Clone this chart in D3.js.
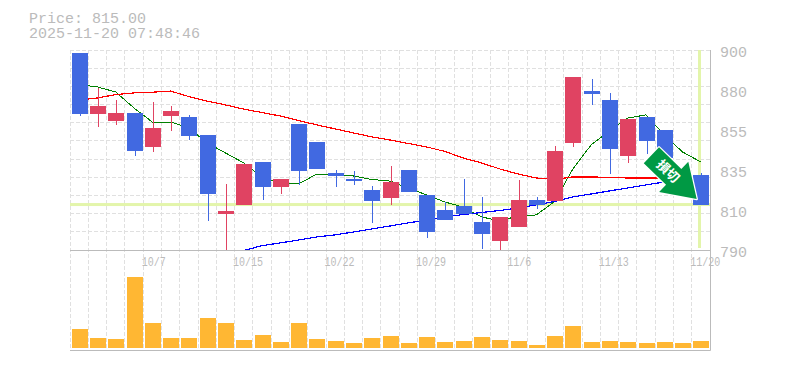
<!DOCTYPE html>
<html>
<head>
<meta charset="utf-8">
<script src="https://cdn.jsdelivr.net/npm/d3@7"></script>
<style>
  html, body { margin: 0; background: #fff; }
  svg { display: block; }
  text { font-family: "Liberation Mono", monospace; fill: #bbb; }
</style>
</head>
<body>
<div id="chart"></div>
<script>
const dates = ['10/1','10/2','10/3','10/6','10/7','10/8','10/9','10/10','10/14','10/15',
  '10/16','10/17','10/20','10/21','10/22','10/23','10/24','10/27','10/28','10/29',
  '10/30','10/31','11/4','11/5','11/6','11/7','11/10','11/11','11/12','11/13',
  '11/14','11/17','11/18','11/19','11/20'];

// blue candles fall, red candles rise
const opens = [898.4,864.8,861,865.4,846.7,863.7,863.2,853.3,809.8,814.8,
  838.4,824.7,859.3,849.4,832.4,829.1,823,818.6,834,820.3,
  812,814.2,805.4,795,802.7,817.5,817,848.9,877.5,872.5,
  841.7,863.2,856,832.9,831.3];
const closes = [864.8,869.2,865.4,844.5,857.1,866.5,852.7,820.8,811.5,837.3,
  824.7,829.1,833.5,834.5,830.7,828,817,827.4,821.9,799.9,
  806.5,809.8,798.8,808.2,817.5,814.8,844.4,885.2,875.8,845.6,
  862,849.9,840.6,824.1,815];
const highs = [898.4,879.3,872.5,865.4,871.4,869.2,864.3,853.3,826.3,837.3,
  838.4,829.1,859.3,849.4,834,833.5,825.2,836.2,834,820.3,
  816.4,829.1,819.2,808.2,828.5,819.2,847.2,885.2,884,876.4,
  862,863.2,856,834,832.4];
const lows = [863.7,857.6,858.8,841.9,844.1,855.5,850.5,806.1,788.9,814.8,
  817.5,820.8,825.8,834.5,824.7,825.8,804.9,814.8,821.9,796.6,
  806.5,809.8,790.6,788.9,802.7,812.5,817,846.7,869.8,831.8,
  837.9,842.8,838.4,822,815];
const volumes = [1900,1000,900,7100,2500,1000,1000,3000,2500,800,
  1300,600,2500,900,700,500,1000,1200,500,1100,
  600,700,1100,800,700,300,1200,2200,600,700,
  600,500,600,500,700];

// moving averages, null where the line has not started
const maShort = [881,879.7,876.9,868.1,860.4,860.4,857.1,848.9,843.4,837.9,
  830.2,826.8,826.3,831.8,831.8,830.7,828.8,827.9,824.1,820.3,
  816.4,813.6,808.2,806,808.7,809.3,816.6,834.6,847.8,855.5,
  862.6,864.3,853.3,843.9,838.4];
const maMid = [872.5,873.6,875.5,876.4,876.8,877.4,874.4,871.9,869.8,867.5,
  865.6,863.7,861.2,858.8,856.6,854.4,852.2,850.5,848.6,846.7,
  844.2,840.6,837.9,834.6,831.8,829.6,828.8,830.2,830.2,829.9,
  829.6,829.6,829.6,829.6,829.6];
const maLong = [null,null,null,null,null,null,null,null,null,789.7,
  792.4,793.9,795.5,797.2,798.3,799.9,801.6,803.2,804.9,806.5,
  808.2,809.5,810.6,811.7,813.1,814.8,816.7,819.2,820.8,822.5,
  824.1,825.8,827.4,829.1,830.7];

const yTicks = [900,880,855,835,810,790];
const dateTicks = ['10/7','10/15','10/22','10/29','11/6','11/13','11/20'];
const lastPrice = 815;
const priceLine1 = 'Price: 815.00';
const priceLine2 = '2025-11-20 07:48:46';

const width = 785;
const height = 370;
const plot = { left: 70, right: 710, top: 50, bottom: 250, volBottom: 350, volBase: 348 };

const svg = d3.select('#chart').append('svg')
  .attr('width', width)
  .attr('height', height);

const x = d3.scaleBand().domain(dates).range([plot.left, plot.right]);
const y = d3.scaleLinear().domain([790, 900]).range([plot.bottom, plot.top]);
const yVol = d3.scaleLinear().domain([0, d3.max(volumes)]).range([plot.volBase, 277]);

const barX = (d) => Math.floor(x(d) + 0.2) + 2;
const gridX = (d) => Math.floor(x(d)) + 0.5;

// gridlines
const grid = svg.append('g')
  .attr('stroke', '#e0e0e0')
  .attr('stroke-dasharray', '4 2')
  .attr('fill', 'none');
grid.selectAll('line.v').data(dates).join('line')
  .attr('class', 'v')
  .attr('x1', gridX).attr('x2', gridX)
  .attr('y1', plot.top).attr('y2', plot.volBottom);
grid.selectAll('line.h').data(d3.range(800, 901, 10)).join('line')
  .attr('class', 'h')
  .attr('x1', plot.left).attr('x2', plot.right)
  .attr('y1', (d) => Math.floor(y(d)) + 0.5)
  .attr('y2', (d) => Math.floor(y(d)) + 0.5);

// current price and current day markers
svg.append('rect')
  .attr('x', plot.left).attr('width', plot.right - plot.left)
  .attr('y', y(lastPrice) - 1.5).attr('height', 3)
  .attr('fill', '#e3f5ab');
svg.append('rect')
  .attr('x', Math.floor(x(dates[34])) + 7).attr('width', 3)
  .attr('y', plot.top).attr('height', plot.bottom - plot.top - 2)
  .attr('fill', '#e3f5ab');

// volume
svg.append('g').selectAll('rect').data(dates).join('rect')
  .attr('x', barX)
  .attr('width', 16)
  .attr('y', (d, i) => yVol(volumes[i]))
  .attr('height', (d, i) => plot.volBase - yVol(volumes[i]))
  .attr('fill', '#ffb733');

// moving averages sit under the candles
svg.append('defs').append('clipPath').attr('id', 'plotClip').append('rect')
  .attr('x', plot.left).attr('y', plot.top)
  .attr('width', plot.right - plot.left).attr('height', plot.bottom - plot.top);

const maLine = d3.line()
  .defined((d) => d !== null)
  .x((d, i) => x(dates[i]) + x.bandwidth() / 2)
  .y((d) => y(d));

const lines = svg.append('g')
  .attr('clip-path', 'url(#plotClip)')
  .attr('fill', 'none')
  .attr('shape-rendering', 'crispEdges');
[[maShort, '#008000', 1], [maMid, '#ff0000', 1.2], [maLong, '#0000ff', 1.2]].forEach(([vals, color, w]) => {
  lines.append('path').attr('d', maLine(vals)).attr('stroke', color).attr('stroke-width', w);
});

// candles
const candleColor = (i) => (closes[i] >= opens[i] ? '#e04362' : '#4169e1');
const candles = svg.append('g').attr('clip-path', 'url(#plotClip)').attr('shape-rendering', 'crispEdges');
candles.selectAll('rect.wick').data(dates).join('rect')
  .attr('class', 'wick')
  .attr('x', (d) => barX(d) + 8)
  .attr('width', 1)
  .attr('y', (d, i) => y(highs[i]))
  .attr('height', (d, i) => y(lows[i]) - y(highs[i]))
  .attr('fill', (d, i) => candleColor(i));
candles.selectAll('rect.body').data(dates).join('rect')
  .attr('class', 'body')
  .attr('x', barX)
  .attr('width', 16)
  .attr('y', (d, i) => y(Math.max(opens[i], closes[i])))
  .attr('height', (d, i) => Math.abs(y(opens[i]) - y(closes[i])))
  .attr('fill', (d, i) => candleColor(i));

// frame
const frame = svg.append('g').attr('stroke', '#bbb').attr('fill', 'none');
frame.append('path').attr('d', d3.line()([
  [plot.left, plot.bottom + 0.5], [plot.right + 0.5, plot.bottom + 0.5]]));
frame.append('path').attr('d', d3.line()([
  [plot.left, plot.volBottom + 0.5], [plot.right + 0.5, plot.volBottom + 0.5], [plot.right + 0.5, plot.top]]));

// price axis
svg.append('g').selectAll('text').data(yTicks).join('text')
  .attr('x', 720)
  .attr('y', (d, i) => plot.top + i * 40 + 7)
  .attr('font-size', 15)
  .text((d) => d);

// date axis
svg.append('g').selectAll('text').data(dateTicks).join('text')
  .attr('x', (d) => x(d) - 1.5)
  .attr('y', 266)
  .attr('font-size', 12)
  .attr('textLength', (d) => d.length * 6)
  .attr('lengthAdjust', 'spacingAndGlyphs')
  .text((d) => d);

// header
svg.append('text').attr('x', 29).attr('y', 23).attr('font-size', 15).text(priceLine1);
svg.append('text').attr('x', 29).attr('y', 38).attr('font-size', 15).text(priceLine2);

// arrow badge, tip pinned to the last candle
const tipX = x(dates[34]) + 5;
const tipY = y(lastPrice) - 5.5;
const arrow = svg.append('g')
  .attr('transform', `translate(${tipX},${tipY}) rotate(44)`);
arrow.append('path')
  .attr('d', 'M0,0 L-32,-21 L-32,-11 L-63,-11 L-63,11 L-32,11 L-32,21 Z')
  .attr('fill', '#009944')
  .attr('stroke', '#fff')
  .attr('stroke-width', 2.5)
  .attr('stroke-linejoin', 'round')
  .attr('paint-order', 'stroke');
arrow.append('text')
  .attr('x', -40)
  .attr('y', 4.5)
  .attr('text-anchor', 'middle')
  .attr('font-size', 13)
  .attr('font-weight', 'bold')
  .style('font-family', '"Noto Sans CJK JP"')
  .style('fill', '#fff')
  .text('損切');
</script>
</body>
</html>
